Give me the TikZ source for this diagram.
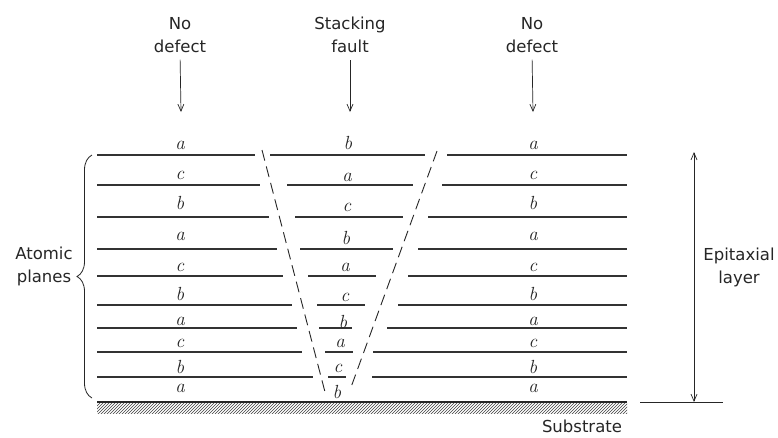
\documentclass[tikz,border=0pt]{standalone}
\usepackage{fontspec}
\setsansfont{DejaVu Sans}
\usetikzlibrary{arrows.meta,patterns,decorations.pathreplacing}
\begin{document}
\begin{tikzpicture}[x=1pt,y=-1pt,
  plane/.style={draw=black!80,line width=1.1pt},
  fault/.style={draw=black!85,line width=0.9pt,dash pattern=on 11pt off 6pt},
  lbl/.style={font=\sffamily\fontsize{16.5}{23}\selectfont,text=black!85,align=center,inner sep=0pt},
  letter/.style={font=\fontsize{19}{19}\selectfont\itshape,text=black!85,inner sep=0pt,anchor=base},
  ptr/.style={draw=black!85,line width=0.7pt,-{Straight Barb[length=7pt,width=6pt]}},
  dptr/.style={draw=black!85,line width=0.7pt,{Straight Barb[length=7pt,width=6pt]}-{Straight Barb[length=7pt,width=6pt]}}]
\fill[white] (0,0) rectangle (778,437);
\useasboundingbox (0,0) rectangle (778,437);

% headings with their pointers
\node[lbl,anchor=north] (nd1) at (180,17) {No\\defect};
\node[lbl,anchor=north] (sf) at (350,17) {Stacking\\fault};
\node[lbl,anchor=north] (nd2) at (532,17) {No\\defect};
\coordinate (t1) at (181,112);
\coordinate (t2) at (350,112);
\coordinate (t3) at (533,112);
\draw[ptr,shorten <=7pt] (nd1.south) -- (t1);
\draw[ptr,shorten <=7pt] (sf.south) -- (t2);
\draw[ptr,shorten <=7pt] (nd2.south) -- (t3);

% atomic planes, split around the faulted wedge
\foreach \y/\le/\ms/\me/\rs in {155/255/270/425/447, 185/260/287/413/442,
    217/269/295/403/428, 249/277/300/393/418, 276/283/308/376/408,
    305/292/317/365/398, 328/297/319/352/387, 352/302/325/353/373,
    377/313/328/346/372}{
  \draw[plane] (97,\y) -- (\le,\y);
  \draw[plane] (\ms,\y) -- (\me,\y);
  \draw[plane] (\rs,\y) -- (627,\y);
}

% fault boundaries
\draw[fault] (262,150) -- (325,392);
\draw[fault] (437,151) -- (350,390);

% stacking letters
\foreach \t/\y [count=\i] in {a/149, c/179, b/209, a/240, c/271, b/300, a/325, c/347, b/373, a/392}{
  \node[letter] (l\i) at (180,\y) {\t};
  \node[letter] (r\i) at (533,\y) {\t};
}
\foreach \t/\x/\y [count=\i] in {b/348/149, a/347/181, c/347/211, b/346/244, a/345/271,
    c/345/301, b/343/328, a/340/347, c/338/372, b/337/398}{
  \node[letter] (m\i) at (\x,\y) {\t};
}

% substrate
\path[pattern=north east lines,pattern color=black!75] (97,402) rectangle (627,413);
\draw[black!85,line width=1.6pt] (97,402) -- (627,402);
\node[lbl,anchor=base] (sub) at (582,432) {Substrate};

% atomic planes brace
\draw[black!85,line width=0.8pt,decorate,decoration={brace,amplitude=15pt}] (92,398) -- (92,155);
\node[lbl,anchor=north] (ap) at (44,247) {Atomic\\planes};

% epitaxial layer extent
\coordinate (et) at (694,152);
\coordinate (eb) at (694,402);
\coordinate (bl) at (640,402);
\coordinate (br) at (723,402);
\draw[dptr] (eb) -- (et);
\draw[black!85,line width=0.7pt] (bl) -- (br);
\node[lbl,anchor=north] (ep) at (739,248) {Epitaxial\\layer};
\end{tikzpicture}
\end{document}
